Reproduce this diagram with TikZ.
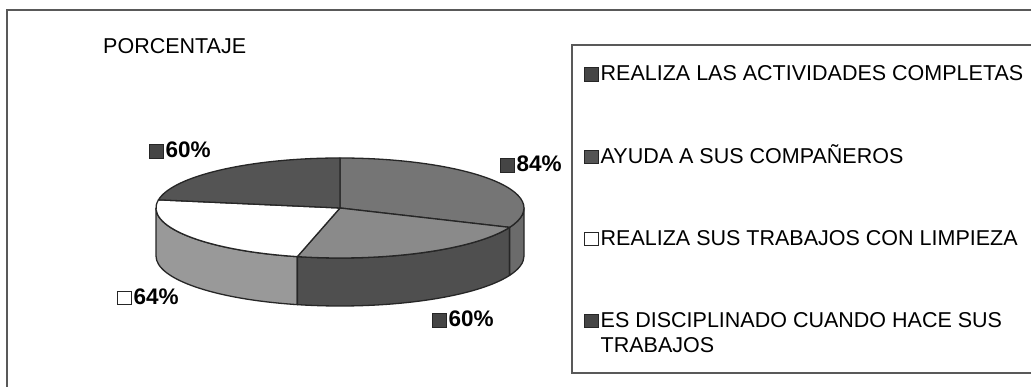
\documentclass[tikz,border=0pt]{standalone}
\usepackage{fontspec}
\setmainfont{Liberation Sans}
\usetikzlibrary{calc}
\definecolor{framecol}{gray}{0.35}
\definecolor{keydark}{gray}{0.27}
\definecolor{keymid}{gray}{0.33}
\definecolor{topA}{gray}{0.46}
\definecolor{sideA}{gray}{0.42}
\definecolor{topB}{gray}{0.54}
\definecolor{sideB}{gray}{0.31}
\definecolor{sideC}{gray}{0.60}
\definecolor{topD}{gray}{0.33}
\newcommand\keysq[1]{{\setlength\fboxsep{0pt}\setlength\fboxrule{1pt}\fcolorbox{black!85}{#1}{\hspace{12.5pt}\rule{0pt}{12.5pt}}}}
\begin{document}
\begin{tikzpicture}[x=1pt,y=1pt,
  pieline/.style={draw=black!85,line width=1.3pt,line join=round},
  framelines/.style={draw=framecol,line width=1.2pt},
  pct/.style={anchor=base west,inner sep=0pt,font=\fontsize{22.5}{26}\selectfont\bfseries},
  legtext/.style={anchor=base west,inner sep=0pt,font=\fontsize{21.5}{25}\selectfont}]
\useasboundingbox (0,0) rectangle (1031,387);
\fill[white] (0,0) rectangle (1031,387);
% outer frame
\draw[framelines] (7,0) -- (7,377) -- (1031,377);
% legend frame
\draw[framelines] (1031,342) -- (572,342) -- (572,14) -- (1031,14);
% title
\node[legtext] (title) at (103,333) {PORCENTAJE};
% pie
\coordinate (T) at (340,179);
% side faces
\filldraw[pieline,fill=sideC] ($(T)+(180:184pt and 50pt)$) arc[start angle=180,end angle=256.6,x radius=184pt,y radius=50pt] -- ++(0,-48) arc[start angle=256.6,end angle=180,x radius=184pt,y radius=50pt] -- cycle;
\filldraw[pieline,fill=sideB] ($(T)+(256.6:184pt and 50pt)$) arc[start angle=256.6,end angle=337.2,x radius=184pt,y radius=50pt] -- ++(0,-48) arc[start angle=337.2,end angle=256.6,x radius=184pt,y radius=50pt] -- cycle;
\filldraw[pieline,fill=sideA] ($(T)+(337.2:184pt and 50pt)$) arc[start angle=337.2,end angle=360,x radius=184pt,y radius=50pt] -- ++(0,-48) arc[start angle=360,end angle=337.2,x radius=184pt,y radius=50pt] -- cycle;
% top faces
\filldraw[pieline,fill=topA] (T) -- ($(T)+(-22.8:184pt and 50pt)$) arc[start angle=-22.8,end angle=90,x radius=184pt,y radius=50pt] -- cycle;
\filldraw[pieline,fill=topB] (T) -- ($(T)+(-103.4:184pt and 50pt)$) arc[start angle=-103.4,end angle=-22.8,x radius=184pt,y radius=50pt] -- cycle;
\filldraw[pieline,fill=white] (T) -- ($(T)+(170.6:184pt and 50pt)$) arc[start angle=170.6,end angle=256.6,x radius=184pt,y radius=50pt] -- cycle;
\filldraw[pieline,fill=topD] (T) -- ($(T)+(90:184pt and 50pt)$) arc[start angle=90,end angle=170.6,x radius=184pt,y radius=50pt] -- cycle;
% data labels
\node[pct] (p60a) at (149,229) {\keysq{keydark}\hspace{2pt}60\%};
\node[pct] (p84) at (500,215) {\keysq{keydark}\hspace{2pt}84\%};
\node[pct] (p64) at (117,82.5) {\keysq{white}\hspace{2pt}64\%};
\node[pct] (p60b) at (432,60) {\keysq{keydark}\hspace{2pt}60\%};
% legend
\node[legtext] (l1) at (584,306) {\keysq{keydark}\hspace{2pt}REALIZA LAS ACTIVIDADES COMPLETAS};
\node[legtext] (l2) at (584,223.5) {\keysq{keymid}\hspace{2pt}AYUDA A SUS COMPAÑEROS};
\node[legtext] (l3) at (584,141.5) {\keysq{white}\hspace{2pt}REALIZA SUS TRABAJOS CON LIMPIEZA};
\node[legtext] (l4) at (584,59.5) {\keysq{keydark}\hspace{2pt}ES DISCIPLINADO CUANDO HACE SUS};
\node[legtext] (l4b) at (600.5,34) {TRABAJOS};
\end{tikzpicture}
\end{document}
